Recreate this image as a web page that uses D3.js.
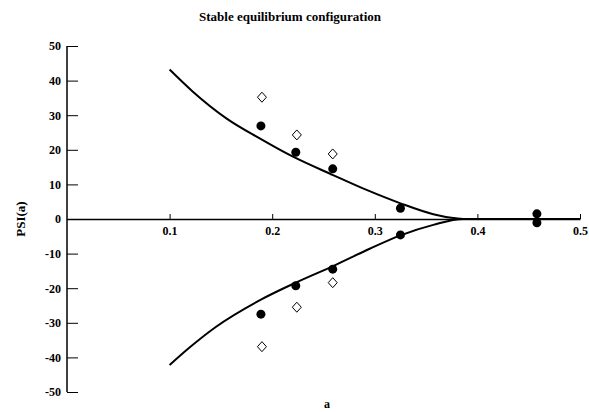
<!DOCTYPE html>
<html>
<head>
<meta charset="utf-8">
<script src="https://cdn.jsdelivr.net/npm/d3@7"></script>
<style>
  body { margin: 0; background: #fff; }
  text { font-family: "Liberation Serif", "DejaVu Serif", serif; fill: #000; }
</style>
</head>
<body>
<svg id="chart" width="589" height="412"></svg>
<script>
// Données
const upperA = [0.1, 0.1227, 0.1553, 0.1878, 0.2203, 0.2593, 0.292, 0.3244, 0.357, 0.3764, 0.388, 0.45, 0.5];
const upperPsi = [43.2, 36.8, 29.1, 23.3, 18.0, 12.7, 8.4, 4.6, 1.4, 0.3, 0, 0, 0];
const lowerA = [0.1, 0.12, 0.145, 0.189, 0.2236, 0.2593, 0.295, 0.3244, 0.357, 0.386, 0.45, 0.5];
const lowerPsi = [-42.2, -37, -31.2, -23.3, -18.3, -13.6, -8.6, -4.8, -1.7, 0, 0, 0];

const dotA = [0.189, 0.223, 0.259, 0.325, 0.458, 0.189, 0.223, 0.259, 0.325, 0.458];
const dotPsi = [26.9, 19.3, 14.5, 3.1, 1.5, -27.5, -19.3, -14.5, -4.6, -1.1];

const diamondA = [0.19, 0.224, 0.259, 0.19, 0.224, 0.259];
const diamondPsi = [35.2, 24.3, 18.8, -36.9, -25.5, -18.4];

const xTicks = [0.1, 0.2, 0.3, 0.4, 0.5];
const yTicks = [50, 40, 30, 20, 10, 0, -10, -20, -30, -40, -50];

// Dimensions
const margin = { top: 46, right: 9, bottom: 20, left: 67 };
const width = 580 - margin.left;
const height = 392 - margin.top;

const svg = d3.select("#chart")
  .append("g")
  .attr("transform", `translate(${margin.left},${margin.top})`);

// Échelles
const x = d3.scaleLinear().domain([0, 0.5]).range([0, width]);
const y = d3.scaleLinear().domain([-50, 50]).range([height, 0]);

// Axe Y (ticks vers l'intérieur)
const yAxis = svg.append("g")
  .call(d3.axisRight(y).tickValues(yTicks).tickSize(11).tickFormat(d => String(d)));
yAxis.select(".domain").attr("stroke-width", 1.5).attr("d", `M0,${y(50)}V${y(-50)}`);
yAxis.selectAll(".tick text")
  .attr("x", -6)
  .attr("text-anchor", "end")
  .style("font-size", "12px")
  .style("font-weight", "bold");

// Axe X à y = 0 (ticks vers le haut)
const xAxis = svg.append("g")
  .attr("transform", `translate(0,${y(0)})`)
  .call(d3.axisBottom(x).tickValues(xTicks).tickSizeInner(-5).tickSizeOuter(0).tickFormat(d3.format(".1f")));
xAxis.select(".domain").attr("stroke-width", 1.5);
xAxis.selectAll(".tick text")
  .attr("y", 7)
  .style("font-size", "12px")
  .style("font-weight", "bold");

// Courbes
const line = d3.line()
  .x(d => x(d[0]))
  .y(d => y(d[1]))
  .curve(d3.curveMonotoneX);

svg.append("path")
  .datum(upperA.map((a, i) => [a, upperPsi[i]]))
  .attr("fill", "none")
  .attr("stroke", "#000")
  .attr("stroke-width", 2)
  .attr("d", line);

svg.append("path")
  .datum(lowerA.map((a, i) => [a, lowerPsi[i]]))
  .attr("fill", "none")
  .attr("stroke", "#000")
  .attr("stroke-width", 2)
  .attr("d", line);

// Points pleins
svg.selectAll(".dot")
  .data(dotA.map((a, i) => [a, dotPsi[i]]))
  .enter()
  .append("circle")
  .attr("class", "dot")
  .attr("cx", d => x(d[0]))
  .attr("cy", d => y(d[1]))
  .attr("r", 4.5)
  .attr("fill", "#000");

// Losanges vides
svg.selectAll(".diamond")
  .data(diamondA.map((a, i) => [a, diamondPsi[i]]))
  .enter()
  .append("path")
  .attr("class", "diamond")
  .attr("transform", d => `translate(${x(d[0])},${y(d[1])})`)
  .attr("d", "M0,-5L4.5,0L0,5L-4.5,0Z")
  .attr("fill", "#fff")
  .attr("stroke", "#000")
  .attr("stroke-width", 1);

// Titre et étiquettes
d3.select("#chart").append("text")
  .attr("x", 290)
  .attr("y", 21)
  .attr("text-anchor", "middle")
  .style("font-size", "13px")
  .style("font-weight", "bold")
  .text("Stable equilibrium configuration");

d3.select("#chart").append("text")
  .attr("transform", "rotate(-90)")
  .attr("x", -219)
  .attr("y", 25)
  .attr("text-anchor", "middle")
  .style("font-size", "13px")
  .style("font-weight", "bold")
  .text("PSI(a)");

d3.select("#chart").append("text")
  .attr("x", 327)
  .attr("y", 408)
  .attr("text-anchor", "middle")
  .style("font-size", "12px")
  .style("font-weight", "bold")
  .text("a");
</script>
</body>
</html>
